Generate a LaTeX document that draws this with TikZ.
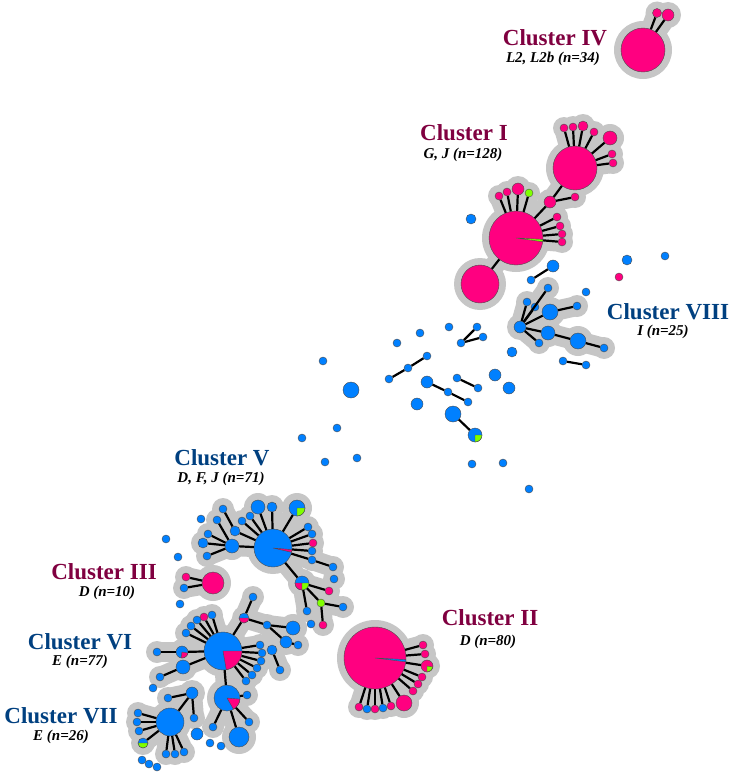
\documentclass[tikz,border=0pt]{standalone}
\usepackage{fontspec}
\setmainfont{Liberation Serif}
\usetikzlibrary{backgrounds}
\definecolor{pk}{RGB}{255,0,128}
\definecolor{bl}{RGB}{0,128,255}
\definecolor{gn}{RGB}{128,255,0}
\definecolor{hullgray}{RGB}{198,198,198}
\definecolor{wine}{RGB}{128,0,64}
\definecolor{deepblue}{RGB}{0,64,128}
\pgfdeclarelayer{hulls}
\pgfsetlayers{background,hulls,main}

\begin{document}
\begin{tikzpicture}[x=1pt,y=-1pt,line join=round,
  dot/.style={circle,draw=black!70,line width=0.4pt,inner sep=0pt},
  link/.style={line width=2.2pt,black},
  hull/.style={hullgray,line width=20pt,line cap=round},
  wedge/.style={draw=black!70,line width=0.4pt},
  title/.style={inner sep=0pt,font=\fontsize{23}{23}\selectfont\bfseries},
  sub/.style={inner sep=0pt,font=\fontsize{15}{15}\selectfont\bfseries\itshape}]
  \useasboundingbox (0,0) rectangle (736,776);
  \begin{pgfonlayer}{background}
    \fill[white] (0,0) rectangle (736,776);
  \end{pgfonlayer}

  % clustered types (grey hull behind them)
  \foreach \n/\x/\y/\rad/\c in {
    iv0/643/50/22/pk, iv1/657/13/4.5/pk, iv2/668/15/6/pk,
    ia/575/168/22/pk, i1/564/128/4/pk, i2/573/127/4/pk, i3/583/126/5/pk,
    i4/594/132/4/pk, i5/610/138/7/pk, i6/612/154/4/pk, i7/613/163/4/pk,
    im/550/202/6/pk, in/575/197/4/pk, ib/516/238/27/pk,
    i8/499/196/4/pk, i9/507/192/4/pk, i10/518/189/6/pk, i11/529/193/4/gn,
    i12/557/217/4/pk, i13/560/226/4/pk, i14/562/234/4/pk, i15/562/242/4/pk,
    ic/480/284/19/pk,
    h0/520/327/6/bl, h1/527/302/4/bl, h2/535/307/4/bl, h3/548/288/4/bl,
    h4/550/312/8/bl, h5/577/306/4/bl, h6/548/333/7/bl, h7/539/343/4/bl,
    h8/578/341/8/bl, h9/604/348/4/bl,
    v0/273/548/19/bl, v1/258/507/7/bl, v2/272/507/5/bl, v3/297/508/8/bl,
    v4/250/516/4/bl, v5/242/521/4/bl, v6/235/531/5/bl, v7/223/509/4/bl,
    v8/232/546/7/bl, v9/217/520/4/bl, v10/208/534/4/bl, v11/203/543/5/bl,
    v12/207/556/4/bl, v13/308/527/4/bl, v14/312/534/4/bl, v15/313/543/4/pk,
    v16/312/551/4/bl, v17/312/560/4/bl, v18/333/567/4/bl, v19/334/579/4/bl,
    v20/302/583/7/bl, v21/329/591/4/pk, v22/321/603/4/gn, v23/307/611/4/bl,
    v24/343/607/4/bl, v25/323/625/4/pk,
    t0/213/583/11/pk, t1/186/577/4/pk, t2/184/588/4/bl,
    s0/223/651/19/bl, s1/212/615/4/bl, s2/204/617/4/pk, s3/197/620/4/bl,
    s4/191/626/4/bl, s5/186/633/4/bl, s6/182/652/6/bl, s7/157/652/4/bl,
    s8/183/667/7/bl, s9/160/677/4/bl, s10/260/645/4/bl, s11/262/653/4/bl,
    s12/261/661/4/bl, s13/257/668/4/bl, s14/252/675/4/bl, s15/246/681/4/bl,
    s16/244/618/5/bl, s17/253/597/4/bl, s18/267/625/4/bl, s19/293/628/7/bl,
    s20/286/642/6/bl, s21/298/645/4/bl, s22/272/650/5/bl, s23/280/670/4/bl,
    s24/227/698/13/bl, s25/247/695/4/bl, s26/213/727/4/bl, s27/239/737/10/bl,
    s28/249/722/4/bl,
    w0/170/722/14/bl, w1/138/713/4/bl, w2/137/722/4/bl, w3/139/731/4/bl,
    w4/143/743/5/bl, w5/166/754/4/bl, w6/175/754/4/bl, w7/184/752/4/bl,
    w8/192/693/6/bl, w9/168/698/4/bl, w10/194/718/4/bl,
    k0/375/658/31/pk, k1/423/645/4/pk, k2/425/654/4/pk, k3/427/666/6/pk,
    k4/422/677/4/pk, k5/418/684/4/pk, k6/413/691/4/pk, k7/404/703/8/pk,
    k8/391/706/4/pk, k9/383/708/4/bl, k10/375/709/4/pk, k11/367/709/4/bl,
    k12/359/707/4/pk} {
    \node[dot,fill=\c,minimum size=2*\rad pt] (\n) at (\x,\y) {};
    \begin{pgfonlayer}{hulls}
      \fill[hullgray] (\x,\y) circle ({\rad pt+7pt});
    \end{pgfonlayer}
  }

  % lone types
  \foreach \n/\x/\y/\rad/\c in {
    f1/471/219/5/bl, f2/553/266/6/bl, f3/531/280/4/bl, f4/586/292/4/bl,
    f5/627/260/5/bl, f6/665/256/4/bl, f7/619/277/4/pk,
    m1/449/327/4/bl, m2/477/327/4/bl, m3/483/337/4/bl, m4/461/343/4/bl,
    m5/512/352/5/bl, m6/563/361/4/bl, m7/586/365/4/bl, m8/420/333/4/bl,
    m9/397/343/4/bl, m10/323/361/4/bl, m11/427/356/4/bl, m12/408/368/4/bl,
    m13/389/379/4/bl, m14/351/390/8/bl, m15/427/382/6/bl, m16/448/392/4/bl,
    m17/468/402/4/bl, m18/457/378/4/bl, m19/478/388/4/bl, m20/495/375/6/bl,
    m21/509/388/6/bl, m22/417/404/6/bl, m23/453/414/8/bl, m24/475/435/7/bl,
    m25/337/428/4/bl, m26/302/438/4/bl, m27/325/462/4/bl, m28/357/458/4/bl,
    m29/472/464/4/bl, m30/503/463/4/bl, m31/529/489/4/bl,
    g1/201/519/4/bl, g2/166/539/4/bl, g3/178/557/4/bl, g4/180/604/4/bl,
    g5/311/624/4/bl, g6/153/688/4/bl,
    w11/197/734/6/bl, w12/210/743/4/bl, w13/221/746/4/bl,
    w14/142/760/4/bl, w15/149/764/4/bl, w16/157/767/4/bl} {
    \node[dot,fill=\c,minimum size=2*\rad pt] (\n) at (\x,\y) {};
  }

  % links inside clusters
  \foreach \a/\b in {iv0/iv1, iv0/iv2,
    ia/i1, ia/i2, ia/i3, ia/i4, ia/i5, ia/i6, ia/i7, ia/im, im/in, im/ib,
    ib/i8, ib/i9, ib/i10, ib/i11, ib/i12, ib/i13, ib/i14, ib/i15, ib/ic,
    h0/h1, h0/h2, h0/h3, h0/h4, h0/h6, h0/h7, h4/h5, h6/h8, h8/h9,
    v0/v1, v0/v2, v0/v3, v0/v4, v0/v5, v0/v6, v6/v7, v0/v8, v8/v9, v8/v10,
    v8/v11, v8/v12, v0/v13, v0/v14, v0/v15, v0/v16, v0/v17, v17/v18,
    v0/v20, v20/v21, v20/v22, v20/v23, v22/v24, v22/v25,
    t0/t1, t0/t2,
    s0/s1, s0/s2, s0/s3, s0/s4, s0/s5, s0/s6, s6/s7, s0/s8, s8/s9,
    s0/s10, s0/s11, s0/s12, s0/s13, s0/s14, s0/s15, s0/s16, s16/s17,
    s16/s18, s18/s19, s18/s20, s20/s21, s22/s23, s0/s24, s24/s25,
    s24/s26, s24/s27, s24/s28,
    w0/w1, w0/w2, w0/w3, w0/w4, w0/w5, w0/w6, w0/w7, w0/w8, w8/w9, w8/w10,
    k0/k1, k0/k2, k0/k3, k0/k4, k0/k5, k0/k6, k0/k7, k0/k8, k0/k9, k0/k10,
    k0/k11, k0/k12} {
    \draw[link] (\a) -- (\b);
    \begin{pgfonlayer}{hulls}
      \draw[hull] (\a.center) -- (\b.center);
    \end{pgfonlayer}
  }
  % links between lone types
  \foreach \a/\b in {f2/f3, m2/m4, m3/m4, m6/m7, m11/m12, m12/m13,
    m15/m16, m16/m17, m18/m19, m23/m24}
    \draw[link] (\a) -- (\b);

  % mixed types
  \filldraw[wedge,fill=gn] (ib.center) -- ++(-8:27pt) arc (-8:-3:27pt) -- cycle;
  \filldraw[wedge,fill=pk] (v0.center) -- ++(-13:19pt) arc (-13:-5:19pt) -- cycle;
  \filldraw[wedge,fill=gn] (v3.center) -- ++(-90:8pt) arc (-90:0:8pt) -- cycle;
  \filldraw[wedge,fill=pk] (v20.center) -- ++(180:7pt) arc (180:270:7pt) -- cycle;
  \filldraw[wedge,fill=gn] (v20.center) -- ++(270:7pt) arc (270:360:7pt) -- cycle;
  \filldraw[wedge,fill=pk] (s0.center) -- ++(-80:19pt) arc (-80:0:19pt) -- cycle;
  \filldraw[wedge,fill=pk] (s6.center) -- ++(-100:6pt) arc (-100:-10:6pt) -- cycle;
  \filldraw[wedge,fill=pk] (s16.center) -- ++(180:5pt) arc (180:360:5pt) -- cycle;
  \filldraw[wedge,fill=pk] (s24.center) -- ++(-60:13pt) arc (-60:-5:13pt) -- cycle;
  \filldraw[wedge,fill=gn] (w4.center) -- ++(180:5pt) arc (180:360:5pt) -- cycle;
  \filldraw[wedge,fill=bl] (k0.center) -- ++(-7:31pt) arc (-7:-3:31pt) -- cycle;
  \filldraw[wedge,fill=gn] (k3.center) -- ++(-90:6pt) arc (-90:-10:6pt) -- cycle;
  \filldraw[wedge,fill=gn] (m24.center) -- ++(-90:7pt) arc (-90:0:7pt) -- cycle;

  % cluster names
  \node[title,text=wine] (c4) at (555,38) {Cluster IV};
  \node[sub] (c4n) at (553,59) {L2, L2b (n=34)};
  \node[title,text=wine] (c1) at (464,133) {Cluster I};
  \node[sub] (c1n) at (463,155) {G, J (n=128)};
  \node[title,text=deepblue] (c8) at (668,312) {Cluster VIII};
  \node[sub] (c8n) at (663,332) {I (n=25)};
  \node[title,text=deepblue] (c5) at (222,458) {Cluster V};
  \node[sub] (c5n) at (221,479) {D, F, J (n=71)};
  \node[title,text=wine] (c3) at (104,572) {Cluster III};
  \node[sub] (c3n) at (107,593) {D (n=10)};
  \node[title,text=wine] (c2) at (490,618) {Cluster II};
  \node[sub] (c2n) at (488,642) {D (n=80)};
  \node[title,text=deepblue] (c6) at (80,642) {Cluster VI};
  \node[sub] (c6n) at (80,662) {E (n=77)};
  \node[title,text=deepblue] (c7) at (61,716) {Cluster VII};
  \node[sub] (c7n) at (61,737) {E (n=26)};
\end{tikzpicture}
\end{document}
